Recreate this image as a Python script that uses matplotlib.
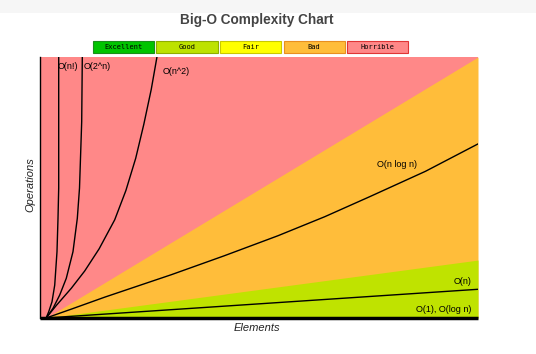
import matplotlib
matplotlib.use('Agg')
import matplotlib.pyplot as plt
from matplotlib.patches import Rectangle

# values (x: elements 0..100, y: operations 0..100)
factorial_x = [1.4, 1.99, 2.74, 3.36, 3.88, 4.11, 4.27, 4.27]
factorial_y = [0, 2.4, 6.2, 12.6, 25.4, 38.2, 49.8, 100]
exp_x = [1.4, 2.97, 4.5, 6.0, 7.53, 8.52, 9.02, 9.52, 9.66]
exp_y = [0, 3.7, 8.8, 15.2, 25.4, 38.2, 49.8, 75.2, 100]
square_x = [1.4, 3.72, 7.15, 10.2, 13.5, 17.05, 19.6, 21.85, 23.7, 25.4, 26.7]
square_y = [0, 4.8, 11.4, 18.0, 26.5, 37.6, 48.8, 61.2, 74.2, 87.6, 100]
nlogn_x = [1.4, 7.15, 14.8, 30.0, 42.0, 54.3, 65.0, 75.3, 88.0, 100]
nlogn_y = [0, 3.4, 8.0, 16.6, 23.8, 31.5, 38.8, 46.5, 56.2, 66.7]
linear_x = [1.4, 100]
linear_y = [0, 11]
const_x = [0, 100]
const_y = [0, 0]

horrible_x = [1.4, 100]
horrible_y = [0, 100]
good_x = [1.4, 100]
good_y = [0, 22.2]

legend_names = ['Excellent', 'Good', 'Fair', 'Bad', 'Horrible']
legend_colors = ['#00c400', '#bde200', '#ffff00', '#ffbd3a', '#ff8888']
legend_edges = ['#1a8f1a', '#8fae00', '#c9c900', '#e88f20', '#e03535']

c_horrible = '#ff8888'
c_bad = '#ffbd3a'
c_good = '#bfe300'

fig = plt.figure(figsize=(5.36, 3.54), dpi=100)
fig.patches.append(Rectangle((0, 1 - 13 / 354), 1, 13 / 354, transform=fig.transFigure,
                             facecolor='#f6f6f6', edgecolor='none'))

ax = fig.add_axes([40 / 536, 36 / 354, 438 / 536, 261 / 354])
ax.set_xlim(0, 100)
ax.set_ylim(0, 100)
ax.set_facecolor(c_horrible)

ax.fill_between(horrible_x, horrible_y, 0, color=c_bad, lw=0)
ax.fill_between(good_x, good_y, 0, color=c_good, lw=0)

for xs, ys in [(factorial_x, factorial_y), (exp_x, exp_y), (square_x, square_y),
               (nlogn_x, nlogn_y), (linear_x, linear_y)]:
    ax.plot(xs, ys, color='black', lw=1.0, solid_joinstyle='round')
ax.plot(const_x, const_y, color='black', lw=2.5, clip_on=False, solid_capstyle='butt')

lab = dict(fontsize=6.5, family='Liberation Sans', color='black')
ax.text(4.1, 96.5, 'O(n!)', ha='left', va='center', **lab)
ax.text(10.0, 96.5, 'O(2^n)', ha='left', va='center', **lab)
ax.text(28.0, 94.5, 'O(n^2)', ha='left', va='center', **lab)
ax.text(77.0, 59.0, 'O(n log n)', ha='left', va='center', **lab)
ax.text(98.5, 14.0, 'O(n)', ha='right', va='center', **lab)
ax.text(98.5, 3.3, 'O(1), O(log n)', ha='right', va='center', **lab)

for s in ['top', 'right', 'bottom']:
    ax.spines[s].set_visible(False)
ax.spines['left'].set_color('black')
ax.spines['left'].set_linewidth(1.0)
ax.set_xticks([])
ax.set_yticks([])

fig.text(257 / 536, 1 - 20 / 354, 'Big-O Complexity Chart', ha='center', va='center',
         fontsize=9.8, fontweight='bold', family='Liberation Sans', color='#444444')
fig.text(257 / 536, 1 - 328 / 354, 'Elements', ha='center', va='center',
         fontsize=8, style='italic', family='Liberation Sans', color='#222222')
fig.text(30 / 536, 1 - 185 / 354, 'Operations', ha='center', va='center', rotation=90,
         fontsize=8, style='italic', family='Liberation Sans', color='#222222')

# legend boxes
box_w = 61 / 536
box_h = 11.5 / 354
x0 = 93 / 536
gap = 63.5 / 536
for i, (name, fc, ec) in enumerate(zip(legend_names, legend_colors, legend_edges)):
    bx = x0 + i * gap
    by = 1 - 52.5 / 354
    fig.patches.append(Rectangle((bx, by), box_w, box_h, transform=fig.transFigure,
                                 facecolor=fc, edgecolor=ec, lw=0.8))
    fig.text(bx + box_w / 2, by + box_h / 2, name, ha='center', va='center',
             fontsize=5, family='DejaVu Sans Mono', color='black')

fig.savefig('out.png', dpi=100)
